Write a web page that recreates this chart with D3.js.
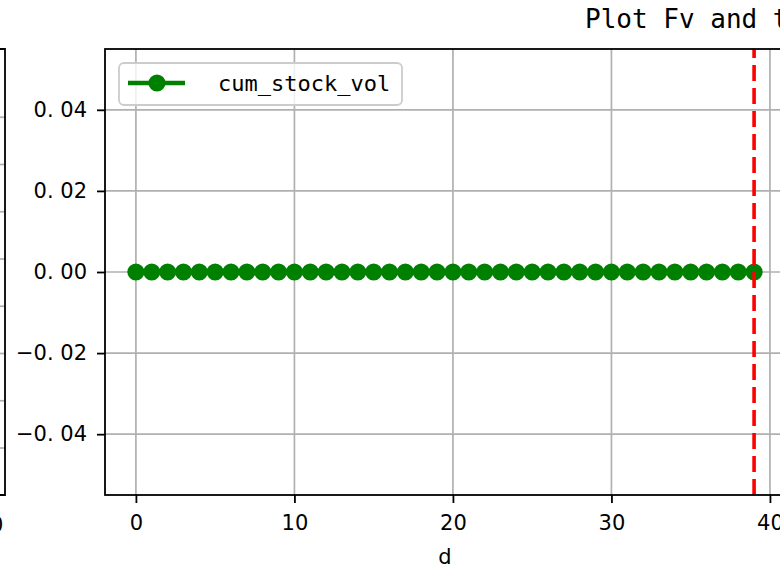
<!DOCTYPE html>
<html>
<head>
<meta charset="utf-8">
<script src="https://cdn.jsdelivr.net/npm/d3@7"></script>
<style>
	html, body { margin: 0; padding: 0; background: #fff; overflow: hidden; }
	#chart { width: 780px; height: 568px; }
</style>
</head>
<body>
<div id="chart"></div>
<script>
//data
const days = [0, 1, 2, 3, 4, 5, 6, 7, 8, 9, 10, 11, 12, 13, 14, 15, 16, 17, 18, 19,
	20, 21, 22, 23, 24, 25, 26, 27, 28, 29, 30, 31, 32, 33, 34, 35, 36, 37, 38, 39];
const cumStockVol = [0, 0, 0, 0, 0, 0, 0, 0, 0, 0, 0, 0, 0, 0, 0, 0, 0, 0, 0, 0,
	0, 0, 0, 0, 0, 0, 0, 0, 0, 0, 0, 0, 0, 0, 0, 0, 0, 0, 0, 0];
const markerDay = [39];
const xTicks = [0, 10, 20, 30, 40];
const xTickLabels = ['0', '10', '20', '30', '40'];
const yTicks = [-0.04, -0.02, 0, 0.02, 0.04];
const yTickLabels = ['\u22120. 04', '\u22120. 02', '0. 00', '0. 02', '0. 04'];
const seriesName = ['cum_stock_vol'];
const titleText = 'Plot Fv and the cumulative stock volume';
const xLabel = 'd';

render();

function render() {
	const width = 780;
	const height = 568;
	const plot = { left: 105, right: 785, top: 49, bottom: 495 };
	const sansFont = '"DejaVu Sans", sans-serif';
	const monoFont = '"DejaVu Sans Mono", monospace';
	const gridColor = '#b0b0b0';

	const svg = d3.select('#chart')
		.append('svg')
		.attr('width', width)
		.attr('height', height);

	const x = d3.scaleLinear()
		.domain([-1.95, 40.95])
		.range([plot.left, plot.right]);

	const y = d3.scaleLinear()
		.domain([-0.055, 0.055])
		.range([plot.bottom, plot.top]);

	//left neighbour panel (only its right edge is visible)
	const leftPanel = svg.append('g');
	const leftY = d3.scaleLinear().domain([0, 8]).range([448, 70]);
	leftPanel.selectAll('.lgrid')
		.data(d3.range(0, 8))
		.enter()
		.append('line')
		.attr('x1', 0)
		.attr('x2', 5)
		.attr('y1', (d) => leftY(d))
		.attr('y2', (d) => leftY(d))
		.style('stroke', gridColor)
		.style('stroke-width', 1.7);
	leftPanel.append('path')
		.attr('d', `M-2,${plot.top}H5V${plot.bottom}H-2`)
		.style('fill', 'none')
		.style('stroke', '#000')
		.style('stroke-width', 1.8);
	leftPanel.append('text')
		.attr('x', -10)
		.attr('y', plot.bottom + 37)
		.attr('text-anchor', 'middle')
		.style('font-family', sansFont)
		.style('font-size', '21px')
		.text('40');

	//grid
	const grid = svg.append('g');
	grid.selectAll('.vgrid')
		.data(xTicks)
		.enter()
		.append('line')
		.attr('x1', (d) => x(d))
		.attr('x2', (d) => x(d))
		.attr('y1', plot.top)
		.attr('y2', plot.bottom)
		.style('stroke', gridColor)
		.style('stroke-width', 1.7);
	grid.selectAll('.hgrid')
		.data(yTicks)
		.enter()
		.append('line')
		.attr('x1', plot.left)
		.attr('x2', plot.right)
		.attr('y1', (d) => y(d))
		.attr('y2', (d) => y(d))
		.style('stroke', gridColor)
		.style('stroke-width', 1.7);

	//series
	const points = days.map((d, i) => ({ d: d, v: cumStockVol[i] }));
	const line = d3.line()
		.x((p) => x(p.d))
		.y((p) => y(p.v));

	svg.append('path')
		.datum(points)
		.attr('d', line)
		.style('fill', 'none')
		.style('stroke', 'green')
		.style('stroke-width', 4.4);

	svg.selectAll('.dot')
		.data(points)
		.enter()
		.append('circle')
		.attr('cx', (p) => x(p.d))
		.attr('cy', (p) => y(p.v))
		.attr('r', 8.6)
		.style('fill', 'green');

	//vertical marker
	svg.selectAll('.vline')
		.data(markerDay)
		.enter()
		.append('line')
		.attr('x1', (d) => x(d))
		.attr('x2', (d) => x(d))
		.attr('y1', plot.bottom)
		.attr('y2', plot.top)
		.style('stroke', 'red')
		.style('stroke-width', 3.6)
		.style('stroke-dasharray', '16,7');

	//axes
	const xAxis = d3.axisBottom(x)
		.tickValues(xTicks)
		.tickSize(8)
		.tickPadding(12)
		.tickFormat((d, i) => xTickLabels[i]);
	const gx = svg.append('g')
		.attr('transform', translation(0, plot.bottom))
		.call(xAxis);

	const yAxis = d3.axisLeft(y)
		.tickValues(yTicks)
		.tickSize(8)
		.tickPadding(10)
		.tickFormat((d, i) => yTickLabels[i]);
	const gy = svg.append('g')
		.attr('transform', translation(plot.left, 0))
		.call(yAxis);

	[gx, gy].forEach((g) => {
		g.select('.domain').remove();
		g.selectAll('.tick line').style('stroke', '#000').style('stroke-width', 1.8);
		g.selectAll('.tick text')
			.style('font-family', sansFont)
			.style('font-size', '21px')
			.style('fill', '#000');
	});

	//frame
	svg.append('rect')
		.attr('x', plot.left)
		.attr('y', plot.top)
		.attr('width', plot.right - plot.left)
		.attr('height', plot.bottom - plot.top)
		.style('fill', 'none')
		.style('stroke', '#000')
		.style('stroke-width', 1.8);

	//labels
	svg.append('text')
		.attr('x', (plot.left + plot.right) / 2)
		.attr('y', 564)
		.attr('text-anchor', 'middle')
		.style('font-family', sansFont)
		.style('font-size', '21px')
		.text(xLabel);

	svg.append('text')
		.attr('x', 585)
		.attr('y', 28)
		.style('font-family', monoFont)
		.style('font-size', '26px')
		.text(titleText);

	//legend
	const legend = svg.append('g')
		.attr('transform', translation(119, 63));
	legend.append('rect')
		.attr('width', 283)
		.attr('height', 42)
		.attr('rx', 5)
		.style('fill', 'rgba(255,255,255,0.8)')
		.style('stroke', '#cccccc')
		.style('stroke-width', 1.8);
	legend.append('line')
		.attr('x1', 9)
		.attr('x2', 66)
		.attr('y1', 20)
		.attr('y2', 20)
		.style('stroke', 'green')
		.style('stroke-width', 4.4);
	legend.append('circle')
		.attr('cx', 38)
		.attr('cy', 20)
		.attr('r', 8.6)
		.style('fill', 'green');
	legend.append('text')
		.attr('x', 99)
		.attr('y', 28)
		.style('font-family', monoFont)
		.style('font-size', '22px')
		.text(seriesName[0]);
}

//utils
function translation(x, y) {
	return `translate(${x}, ${y})`;
}
</script>
</body>
</html>
